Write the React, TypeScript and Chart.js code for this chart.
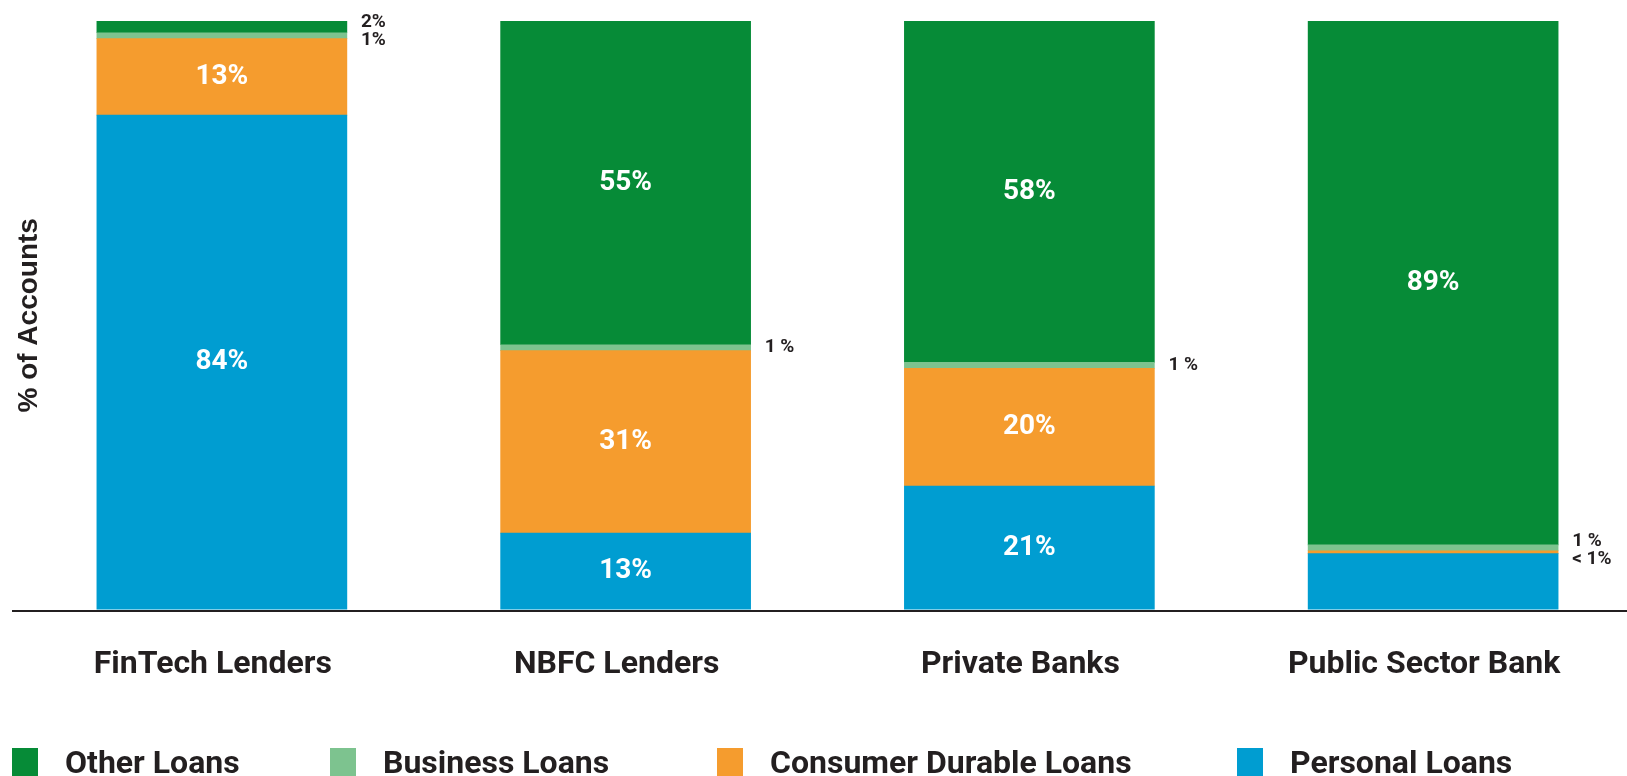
import { useEffect, useRef } from 'react';
import { Chart, registerables } from 'chart.js';

Chart.register(...registerables);

// Lender groups along the x axis
const categories = ['FinTech Lenders', 'NBFC Lenders', 'Private Banks', 'Public Sector Bank'];

// Share of accounts (%) per loan type, bottom segment first
const personalLoans = [84, 13, 21, 9.5];
const consumerDurableLoans = [13, 31, 20, 0.5];
const businessLoans = [1, 1, 1, 1];
const otherLoans = [2, 55, 58, 89];

const seriesNames = ['Personal Loans', 'Consumer Durable Loans', 'Business Loans', 'Other Loans'];
const seriesValues = [personalLoans, consumerDurableLoans, businessLoans, otherLoans];
const seriesColors = ['#009DD1', '#F59C2E', '#7DC38F', '#068B37'];

// Legend lists the stack top-down
const legendOrder = [3, 2, 1, 0];

// [dataset, category] pairs whose segment carries no printed value
const unlabeledSegments = [[0, 3]];

// Small outside values are written as "1 %" in these groups
const spacedOutsideLabels = [false, true, true, true];

const INK = '#231F20';

function segmentText(value: number, cat: number, outside: boolean): string {
  if (value < 1) return '< 1%';
  if (outside && spacedOutsideLabels[cat]) return `${value} %`;
  return `${value}%`;
}

const segmentLabels = {
  id: 'segmentLabels',
  afterDatasetsDraw(chart: any) {
    const ctx = chart.ctx as CanvasRenderingContext2D;
    const outside: { x: number; y: number; text: string }[][] = categories.map(() => []);

    chart.data.datasets.forEach((ds: any, di: number) => {
      const meta = chart.getDatasetMeta(di);
      meta.data.forEach((el: any, ci: number) => {
        if (unlabeledSegments.some(([d, c]) => d === di && c === ci)) return;
        const v = ds.data[ci] as number;
        const { x, y, base, width } = el.getProps(['x', 'y', 'base', 'width'], true);
        const cy = (y + base) / 2;
        if (v >= 5) {
          ctx.save();
          ctx.font = 'bold 28px Roboto';
          ctx.fillStyle = '#FFFFFF';
          ctx.textAlign = 'center';
          ctx.textBaseline = 'middle';
          ctx.fillText(segmentText(v, ci, false), x, cy);
          ctx.restore();
        } else {
          outside[ci].push({ x: x + width / 2 + 14, y: cy, text: segmentText(v, ci, true) });
        }
      });
    });

    // Spread stacked small-value notes around their mean height
    const gap = 18;
    outside.forEach((group) => {
      if (!group.length) return;
      group.sort((a, b) => a.y - b.y);
      const mean = group.reduce((s, g) => s + g.y, 0) / group.length;
      group.forEach((g, k) => {
        const yy = group.length > 1 ? mean + (k - (group.length - 1) / 2) * gap : g.y;
        ctx.save();
        ctx.font = 'bold 19px Roboto';
        ctx.fillStyle = INK;
        ctx.textAlign = 'left';
        ctx.textBaseline = 'middle';
        ctx.fillText(g.text, g.x, yy);
        ctx.restore();
      });
    });
  },
  afterDraw(chart: any) {
    const ctx = chart.ctx as CanvasRenderingContext2D;
    const area = chart.chartArea;
    // Baseline rule under the bars
    ctx.save();
    ctx.beginPath();
    ctx.moveTo(12, area.bottom + 1.5);
    ctx.lineTo(chart.width, area.bottom + 1.5);
    ctx.lineWidth = 2;
    ctx.strokeStyle = INK;
    ctx.stroke();
    ctx.restore();

    // Rotated value-axis title
    ctx.save();
    ctx.translate(29, (area.top + area.bottom) / 2);
    ctx.rotate(-Math.PI / 2);
    ctx.font = 'bold 28px "Liberation Sans", Arial, sans-serif';
    ctx.fillStyle = INK;
    ctx.textAlign = 'center';
    ctx.textBaseline = 'middle';
    ctx.fillText('% of Accounts', 0, 0);
    ctx.restore();
  },
};

const legendPositions = [
  { marker: 12, text: 65 },
  { marker: 330, text: 383 },
  { marker: 717, text: 770 },
  { marker: 1237, text: 1290 },
];

export default function App() {
  const canvasRef = useRef<HTMLCanvasElement | null>(null);

  useEffect(() => {
    if (!canvasRef.current) return;
    const chart = new Chart(canvasRef.current, {
      type: 'bar',
      data: {
        labels: categories,
        datasets: seriesNames.map((name, i) => ({
          label: name,
          data: seriesValues[i],
          backgroundColor: seriesColors[i],
          borderWidth: 0,
          barThickness: 250,
        })),
      },
      options: {
        animation: false,
        responsive: true,
        maintainAspectRatio: false,
        layout: { padding: { top: 21, left: 20, right: 10, bottom: 56 } },
        plugins: {
          legend: { display: false },
          tooltip: { enabled: false },
        },
        scales: {
          x: {
            stacked: true,
            grid: { display: false, drawTicks: false, tickLength: 0 },
            border: { display: false },
            ticks: {
              padding: 36,
              labelOffset: -9,
              color: INK,
              font: { family: 'Roboto', weight: 'bold', size: 32 },
            },
          },
          y: { stacked: true, display: false, min: 0, max: 100 },
        },
      },
      plugins: [segmentLabels],
    });
    return () => chart.destroy();
  }, []);

  return (
    <div
      style={{
        position: 'absolute',
        left: 0,
        top: 0,
        width: 1627,
        height: 776,
        overflow: 'hidden',
        background: '#FFFFFF',
      }}
    >
      <div style={{ position: 'absolute', left: 0, top: 0, width: 1645, height: 776 }}>
        <canvas ref={canvasRef} />
      </div>
      {legendOrder.map((si, k) => (
        <div key={seriesNames[si]}>
          <div
            style={{
              position: 'absolute',
              left: legendPositions[k].marker,
              top: 748,
              width: 26,
              height: 28,
              background: seriesColors[si],
            }}
          />
          <div
            style={{
              position: 'absolute',
              left: legendPositions[k].text,
              top: 746,
              fontFamily: 'Roboto',
              fontWeight: 700,
              fontSize: 32,
              lineHeight: '32px',
              color: INK,
              whiteSpace: 'nowrap',
            }}
          >
            {seriesNames[si]}
          </div>
        </div>
      ))}
    </div>
  );
}
